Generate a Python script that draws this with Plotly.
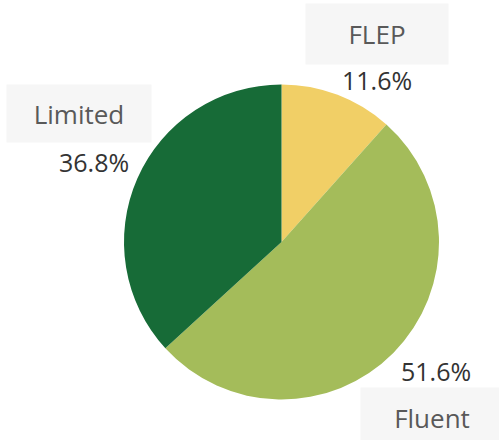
import plotly.graph_objects as go

categories = ["FLEP", "Fluent", "Limited"]
shares = [11.6, 51.6, 36.8]
colors = ["#F1CF66", "#A4BC5A", "#176B37"]

W, H = 499, 440
cx, cy, r = 281.5, 242, 157.5

fig = go.Figure(go.Pie(
    labels=categories, values=shares, sort=False, direction="clockwise",
    rotation=0, marker=dict(colors=colors, line=dict(width=0)),
    textinfo="none", hoverinfo="label+percent", showlegend=False,
    domain=dict(x=[(cx - r) / W, (cx + r) / W], y=[(H - cy - r) / H, (H - cy + r) / H]),
))

# label placements (pixel centres) for name box and percentage
name_pos = {"FLEP": (377, 34, 140, 58), "Limited": (79, 114, 142, 55), "Fluent": (432, 418, 140, 58)}
pct_pos = {"FLEP": (377, 80), "Limited": (94, 162), "Fluent": (436, 371)}

anns = []
for cat, val in zip(categories, shares):
    x, y, w, h = name_pos[cat]
    anns.append(dict(x=x / W, y=1 - y / H, xref="paper", yref="paper", text=cat,
                     showarrow=False, bgcolor="#F6F6F6", width=w, height=h,
                     font=dict(family="Open Sans", size=26, color="#595959"),
                     xanchor="center", yanchor="middle"))
    px, py = pct_pos[cat]
    anns.append(dict(x=px / W, y=1 - py / H, xref="paper", yref="paper", text=f"{val:.1f}%",
                     showarrow=False,
                     font=dict(family="Open Sans", size=25, color="#333333"),
                     xanchor="center", yanchor="middle"))

fig.update_layout(width=W, height=H, margin=dict(l=0, r=0, t=0, b=0),
                  paper_bgcolor="white", plot_bgcolor="white", annotations=anns)
fig.write_html("out.html", config={"displayModeBar": False},
               post_script="document.body.style.margin='0';")
